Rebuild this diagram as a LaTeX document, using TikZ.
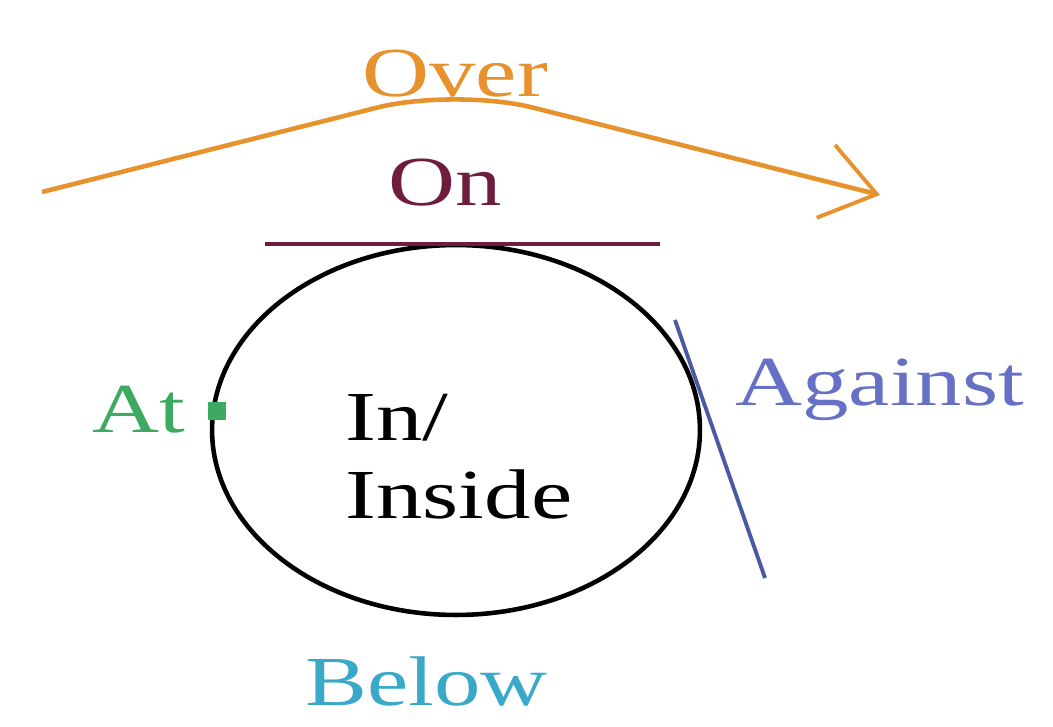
\documentclass[tikz,border=0pt]{standalone}
\usepackage{fontspec}
\setmainfont{Liberation Serif}
\usetikzlibrary{arrows.meta,positioning,shapes.geometric}

\definecolor{overorange}{HTML}{E8922E}
\definecolor{onmaroon}{HTML}{6E1D3F}
\definecolor{atgreen}{HTML}{3DAA62}
\definecolor{againstblue}{HTML}{6670C4}
\definecolor{linkblue}{HTML}{4A5AA0}
\definecolor{belowteal}{HTML}{3AA8C8}

\tikzset{
  word/.style={font=\fontsize{40}{44}\selectfont, inner sep=0pt, anchor=base west, xscale=1.32},
  thickline/.style={line width=2.6pt}
}

\begin{document}
\begin{tikzpicture}[x=0.02cm, y=-0.02cm]
  \useasboundingbox (0,0) rectangle (1053,726);
  % circle and its words
  \node (circ) [draw, thickline, ellipse, minimum width=9.76cm, minimum height=7.4cm, inner sep=0pt] at (456,430) {};
  \node (in) [word] at (345,440) {In/};
  \node (inside) [word] at (345,518) {Inside};
  % over
  \coordinate (ovL) at (42,192);
  \coordinate (ovP) at (455,88);
  \coordinate (ovR) at (880,195);
  \draw[overorange, thickline, rounded corners=1.6cm, -{Straight Barb[length=1.05cm, width=1.5cm, line width=2.2pt]}] (ovL) -- (ovP) -- (ovR);
  \node (over) [word, text=overorange] at (362,97) {Over};
  % on
  \node (on) [word, text=onmaroon] at (388,205) {On};
  \coordinate (onL) at (265,244);
  \coordinate (onR) at (660,244);
  \draw[onmaroon, thickline] (onL) -- (onR);
  % at
  \node (at) [word, text=atgreen] at (92,432) {At};
  \node (dot) [fill=atgreen, minimum size=0.36cm, inner sep=0pt] at (217,411) {};
  % against
  \coordinate (agT) at (675,320);
  \coordinate (agB) at (765,578);
  \draw[linkblue, line width=2.2pt] (agT) -- (agB);
  \node (against) [word, text=againstblue] at (735,405) {Against};
  % below
  \node (below) [word, text=belowteal] at (305,705) {Below};
\end{tikzpicture}
\end{document}
